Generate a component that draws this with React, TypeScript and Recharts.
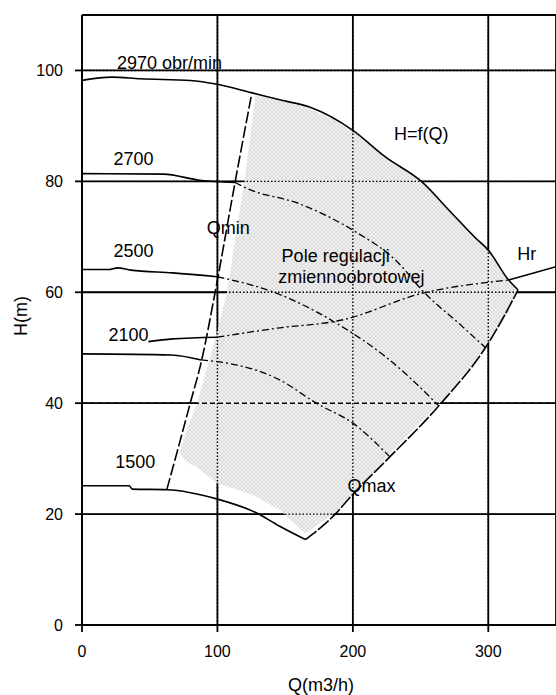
import { ComposedChart, Line, Area, XAxis, YAxis, CartesianGrid, ReferenceLine, ReferenceDot } from 'recharts'

const xTicks = [0, 100, 200, 300]
const yTicks = [0, 20, 40, 60, 80, 100]
const xMax = 350
const yMax = 110

// H=f(Q) at 2970 obr/min, top edge of the field
const h2970 = [
  { q: 0, h: 98.2 }, { q: 22, h: 98.8 }, { q: 43, h: 98.5 }, { q: 80, h: 98.2 },
  { q: 100, h: 97.5 }, { q: 125, h: 96 }, { q: 146, h: 94.7 }, { q: 168, h: 93.4 },
  { q: 200, h: 89.2 }, { q: 224, h: 84.4 }, { q: 251, h: 79.9 }, { q: 271, h: 74.8 },
  { q: 291, h: 69.7 }, { q: 300, h: 67.6 }, { q: 315, h: 62.2 }, { q: 322, h: 60.4 },
]
const h2700 = [{ q: 0, h: 81.4 }, { q: 60, h: 81.3 }, { q: 87, h: 80.2 }, { q: 113, h: 79.8 }]
const h2700in = [
  { q: 113, h: 79.8 }, { q: 122, h: 78.7 }, { q: 160, h: 76 }, { q: 200, h: 71.2 },
  { q: 234, h: 65.2 }, { q: 251, h: 60.4 }, { q: 281, h: 53.8 }, { q: 298, h: 50 },
]
const h2500 = [
  { q: 0, h: 64.1 }, { q: 20, h: 64.1 }, { q: 26, h: 64.4 }, { q: 36, h: 64 },
  { q: 67, h: 63.5 }, { q: 100, h: 62.8 },
]
const h2500in = [
  { q: 100, h: 62.8 }, { q: 146, h: 59.6 }, { q: 192, h: 53.8 }, { q: 224, h: 48.4 },
  { q: 259, h: 40.6 }, { q: 263, h: 39.6 },
]
const h2100 = [{ q: 0, h: 48.9 }, { q: 66, h: 48.7 }, { q: 88, h: 47.8 }]
const h2100in = [
  { q: 88, h: 47.8 }, { q: 100, h: 47.5 }, { q: 146, h: 44.2 }, { q: 173, h: 40 },
  { q: 200, h: 36.4 }, { q: 227, h: 30.4 },
]
const h1500 = [
  { q: 0, h: 25.1 }, { q: 35, h: 25.1 }, { q: 37, h: 24.5 }, { q: 63, h: 24.4 },
  { q: 100, h: 22.7 }, { q: 129, h: 20.2 }, { q: 146, h: 17.8 }, { q: 165, h: 15.4 },
]
const qMin = [
  { q: 62.6, h: 24.4 }, { q: 70, h: 31 }, { q: 79.8, h: 39.9 }, { q: 88.4, h: 47.8 },
  { q: 98.3, h: 60 }, { q: 113, h: 79.8 }, { q: 125.3, h: 95.8 },
]
const qMax = [
  { q: 165, h: 15.4 }, { q: 187, h: 20 }, { q: 199, h: 23.3 }, { q: 226, h: 30 },
  { q: 263, h: 39.4 }, { q: 300, h: 50.8 }, { q: 322, h: 60.4 },
]
// pipeline curve Hr
const hrOut = [{ q: 49, h: 51.1 }, { q: 67, h: 51.6 }, { q: 100, h: 51.9 }]
const hrIn = [
  { q: 100, h: 51.9 }, { q: 143, h: 53.5 }, { q: 192, h: 55 }, { q: 251, h: 59.8 }, { q: 315, h: 62.2 },
]
const hrEnd = [{ q: 315, h: 62.2 }, { q: 350, h: 64.6 }]

// shaded regulation field: lower and upper edge
const fieldQ = [72, 77, 85, 100, 107, 120, 128, 146, 165, 187, 200, 224, 251, 263, 271, 291, 300, 315, 322]
const fieldLo = [31, 29.5, 28.4, 25.5, 25, 24, 23.2, 20.8, 16.5, 20.3, 23.5, 30, 36.8, 39.7, 41.9, 47.8, 50.8, 56.5, 60.4]
const fieldHi = [31, 35, 40, 53, 60, 80, 95.5, 94.6, 93.4, 91, 89, 84.4, 79.9, 77, 74.8, 69.7, 67.6, 62.2, 60.4]
const field = fieldQ.map((q, i) => ({ q, band: [fieldLo[i], fieldHi[i]] }))

const font = 'Liberation Sans, Arial, sans-serif'
const dashDot = '7 3 2 3'

function note(text: string, q: number, h: number) {
  return (
    <ReferenceDot
      key={text}
      x={q}
      y={h}
      r={0}
      fill="none"
      stroke="none"
      ifOverflow="visible"
      label={{ value: text, position: 'right', offset: 0, fontSize: 18, fill: '#000', fontFamily: font }}
    />
  )
}

function curve(key: string, data: { q: number; h: number }[], dash?: string, width = 1.6) {
  return (
    <Line
      key={key}
      data={data}
      dataKey="h"
      type="monotone"
      stroke="#000"
      strokeWidth={width}
      strokeDasharray={dash}
      dot={false}
      activeDot={false}
      isAnimationActive={false}
    />
  )
}

export default function App() {
  return (
    <div style={{ position: 'absolute', left: 0, top: 0, background: '#fff' }}>
      <ComposedChart
        width={556}
        height={695}
        margin={{ top: 15, right: 0, bottom: 30, left: 0 }}
        style={{ fontFamily: font }}
      >
        <defs>
          <pattern id="field" width="4" height="4" patternUnits="userSpaceOnUse">
            <rect width="4" height="4" fill="#f3f3f3" />
            <path d="M0,0L4,4M4,0L0,4" stroke="#d0d0d0" strokeWidth="0.7" />
          </pattern>
        </defs>
        <CartesianGrid stroke="#000" strokeWidth={1.8} />
        <XAxis
          type="number"
          dataKey="q"
          domain={[0, xMax]}
          ticks={xTicks}
          allowDataOverflow
          height={40}
          tickSize={7}
          tickMargin={14}
          axisLine={{ stroke: '#000', strokeWidth: 1.8 }}
          tickLine={{ stroke: '#000', strokeWidth: 1.8 }}
          tick={{ fill: '#000', fontSize: 16 }}
        />
        <YAxis
          type="number"
          domain={[0, yMax]}
          ticks={yTicks}
          allowDataOverflow
          width={82}
          tickSize={7}
          tickMargin={12}
          axisLine={{ stroke: '#000', strokeWidth: 1.8 }}
          tickLine={{ stroke: '#000', strokeWidth: 1.8 }}
          tick={{ fill: '#000', fontSize: 16 }}
        />
        <ReferenceLine y={yMax} stroke="#000" strokeWidth={1.8} />
        <Area
          data={field}
          dataKey="band"
          type="linear"
          stroke="none"
          fill="url(#field)"
          fillOpacity={1}
          dot={false}
          activeDot={false}
          isAnimationActive={false}
        />
        {yTicks.slice(1).map((t) => (
          <ReferenceLine key={'gy' + t} y={t} stroke="#000" strokeWidth={1.4} strokeDasharray={t === 40 ? '5 3' : '1.5 2'} />
        ))}
        {xTicks.slice(1).map((t) => (
          <ReferenceLine key={'gx' + t} x={t} stroke="#000" strokeWidth={1.4} strokeDasharray="1.5 2" />
        ))}
        {curve('h2970', h2970)}
        {curve('h2700', h2700)}
        {curve('h2700in', h2700in, dashDot, 1.3)}
        {curve('h2500', h2500)}
        {curve('h2500in', h2500in, dashDot, 1.3)}
        {curve('h2100', h2100)}
        {curve('h2100in', h2100in, dashDot, 1.3)}
        {curve('h1500', h1500)}
        {curve('qMin', qMin, '12 3')}
        {curve('qMax', qMax, '14 2')}
        {curve('hrOut', hrOut)}
        {curve('hrIn', hrIn, dashDot, 1.3)}
        {curve('hrEnd', hrEnd)}
        {note('2970 obr/min', 25.8, 101.5)}
        {note('2700', 23.3, 84.1)}
        {note('2500', 23.3, 67.6)}
        {note('2100', 19.6, 52.3)}
        {note('1500', 24.5, 29.5)}
        {note('H=f(Q)', 230.4, 88.7)}
        {note('Qmin', 92.2, 71.6)}
        {note('Pole regulacji', 147.4, 66.7)}
        {note('zmiennoobrotowej', 145, 62.9)}
        {note('Hr', 321.4, 66.9)}
        {note('Qmax', 196, 25.1)}
        <text x={321} y={691} textAnchor="middle" fontSize={18} fill="#000" fontFamily={font}>
          Q(m3/h)
        </text>
        <text
          x={27}
          y={316}
          textAnchor="middle"
          fontSize={18}
          fill="#000"
          fontFamily={font}
          transform="rotate(-90 27 316)"
        >
          H(m)
        </text>
      </ComposedChart>
    </div>
  )
}
